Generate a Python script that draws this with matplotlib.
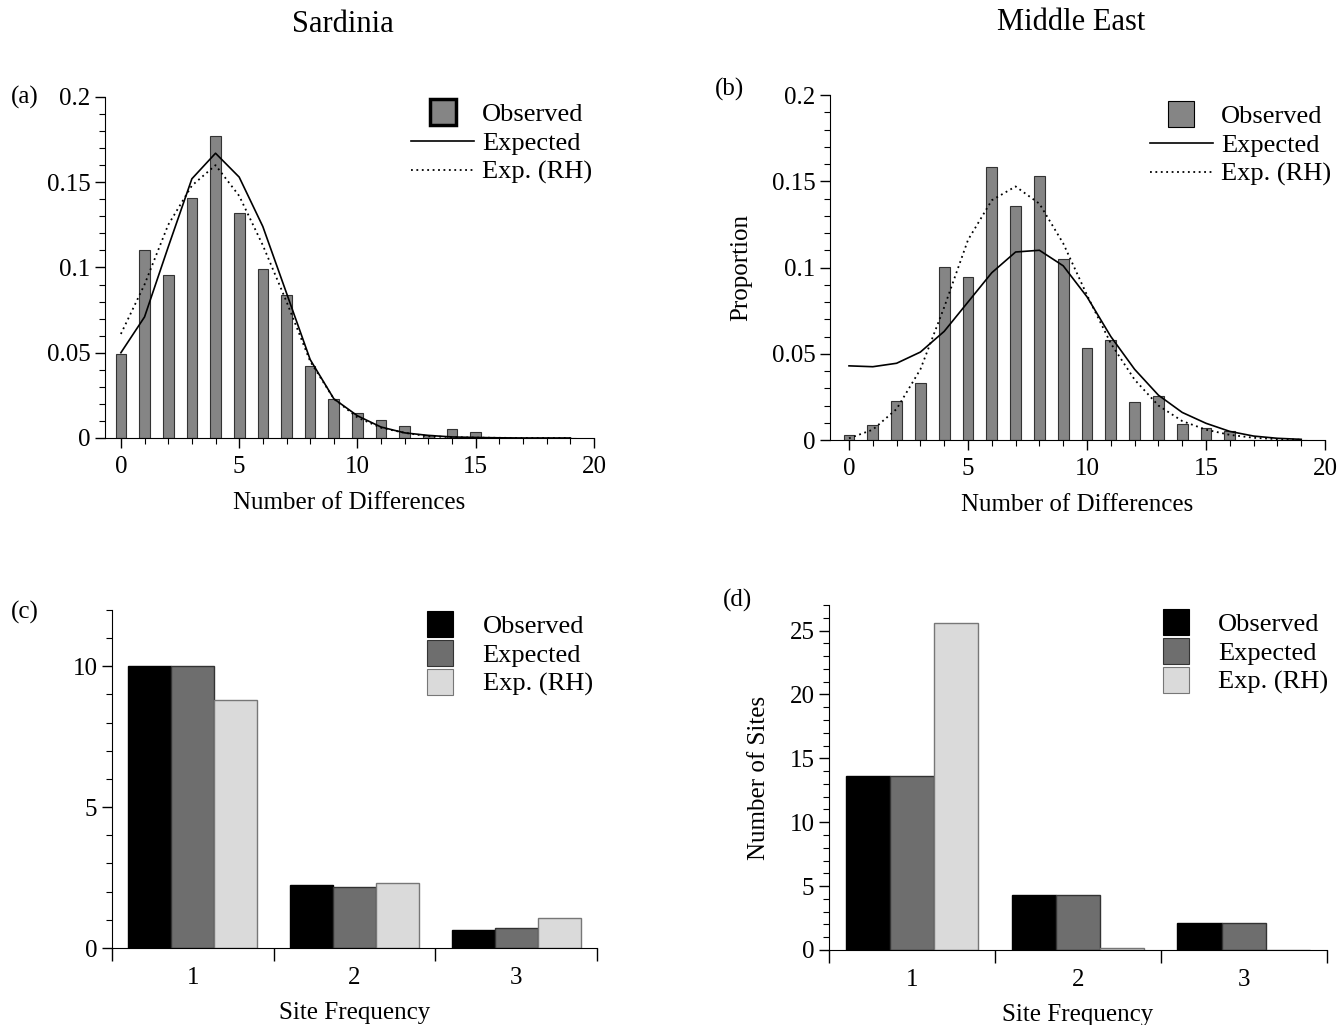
import matplotlib
matplotlib.use('Agg')
import matplotlib.pyplot as plt
import numpy as np
from matplotlib.lines import Line2D
from matplotlib.ticker import MultipleLocator, FixedLocator

plt.rcParams['font.family'] = ['Liberation Serif', 'DejaVu Serif']
plt.rcParams['font.size'] = 18

# --- mismatch distributions (top row) ---
diffs = list(range(0, 20))

sard_obs = [0.049, 0.110, 0.0955, 0.141, 0.177, 0.132, 0.099, 0.084, 0.042, 0.0226,
            0.0144, 0.0105, 0.0072, 0.002, 0.0053, 0.0035, 0, 0, 0, 0]
sard_exp = [0.050, 0.071, 0.112, 0.152, 0.167, 0.153, 0.124, 0.085, 0.046, 0.023,
            0.013, 0.0064, 0.003, 0.0015, 0.0006, 0.0003, 0.0001, 0, 0, 0]
sard_rh = [0.061, 0.090, 0.125, 0.148, 0.160, 0.142, 0.113, 0.080, 0.045, 0.023,
           0.012, 0.006, 0.003, 0.001, 0.0005, 0.0002, 0.0001, 0, 0, 0]

me_obs = [0.003, 0.0087, 0.0228, 0.0328, 0.1003, 0.0945, 0.158, 0.1357, 0.153, 0.105,
          0.0533, 0.058, 0.022, 0.0255, 0.0093, 0.0071, 0.0052, 0, 0, 0]
me_exp = [0.043, 0.0425, 0.0445, 0.051, 0.063, 0.080, 0.097, 0.109, 0.110, 0.101,
          0.083, 0.060, 0.041, 0.026, 0.016, 0.0097, 0.005, 0.0023, 0.001, 0.0004]
me_rh = [0.001, 0.006, 0.018, 0.041, 0.077, 0.116, 0.139, 0.147, 0.137, 0.114,
         0.084, 0.056, 0.035, 0.020, 0.011, 0.006, 0.003, 0.0013, 0.0005, 0.0002]

prop_ticks = [0, 0.05, 0.1, 0.15, 0.2]
prop_labels = ['0', '0.05', '0.1', '0.15', '0.2']

# --- site frequency spectra (bottom row) ---
site_freq = [1, 2, 3]
sard_sfs_obs = [10.0, 2.23, 0.63]
sard_sfs_exp = [10.0, 2.17, 0.72]
sard_sfs_rh = [8.8, 2.32, 1.05]

me_sfs_obs = [13.6, 4.33, 2.1]
me_sfs_exp = [13.6, 4.28, 2.1]
me_sfs_rh = [25.6, 0.12, 0.0]

series_names = ['Observed', 'Expected', 'Exp. (RH)']

bar_gray = '#858585'
sfs_colors = ['black', '#6e6e6e', '#dadada']
sfs_edges = ['black', '#333333', '#777777']

fig = plt.figure(figsize=(13.38, 10.25), dpi=100)


def mismatch_panel(rect, obs, exp, rh, xlim, thick_legend, leg_anchor):
    ax = fig.add_axes(rect)
    ax.bar(diffs, obs, width=0.45, color=bar_gray, edgecolor='#333333', linewidth=0.8, zorder=2)
    ax.plot(diffs, exp, color='black', lw=1.2, zorder=3)
    ax.plot(diffs, rh, color='black', lw=1.3, linestyle=(0, (1, 2)), zorder=3)
    ax.set_xlim(*xlim)
    ax.set_ylim(0, 0.2)
    ax.set_yticks(prop_ticks)
    ax.set_yticklabels(prop_labels)
    ax.yaxis.set_minor_locator(MultipleLocator(0.01))
    ax.set_xticks([0, 5, 10, 15, 20])
    ax.xaxis.set_minor_locator(MultipleLocator(1))
    ax.spines['top'].set_visible(False)
    ax.spines['right'].set_visible(False)
    ax.tick_params(which='major', direction='out', length=7, width=1)
    ax.tick_params(which='minor', direction='out', length=4, width=0.8)
    ax.tick_params(axis='x', pad=6)
    ax.set_xlabel('Number of Differences', labelpad=10)
    handles = [
        Line2D([], [], marker='s', markersize=19, ls='none', mfc=bar_gray,
               mec='black', mew=2.5 if thick_legend else 0.8),
        Line2D([], [], color='black', lw=1.2),
        Line2D([], [], color='black', lw=1.3, linestyle=(0, (1, 2))),
    ]
    ax.legend(handles, series_names, loc='upper right', bbox_to_anchor=leg_anchor,
              frameon=False, handlelength=2.4, handletextpad=0.3, labelspacing=0.2,
              fontsize=19)
    return ax


def sfs_panel(rect, obs, exp, rh, ymax, ystep, leg_anchor):
    ax = fig.add_axes(rect)
    x = np.array(site_freq)
    w = 0.8 / 3
    for i, vals in enumerate([obs, exp, rh]):
        ax.bar(x + (i - 1) * w, vals, width=w, color=sfs_colors[i],
               edgecolor=sfs_edges[i], linewidth=1, label=series_names[i])
    ax.set_xlim(0.5, 3.5)
    ax.set_ylim(0, ymax)
    ax.set_yticks(np.arange(0, ymax + 0.1, ystep))
    ax.yaxis.set_minor_locator(MultipleLocator(1))
    ax.set_xticks(site_freq)
    ax.xaxis.set_minor_locator(FixedLocator([0.5, 1.5, 2.5, 3.5]))
    ax.spines['top'].set_visible(False)
    ax.spines['right'].set_visible(False)
    ax.tick_params(axis='x', which='major', length=0, pad=14)
    ax.tick_params(axis='x', which='minor', direction='out', length=9, width=1)
    ax.tick_params(axis='y', which='major', direction='out', length=7, width=1)
    ax.tick_params(axis='y', which='minor', direction='out', length=4, width=0.8)
    ax.set_xlabel('Site Frequency', labelpad=9)
    handles = [Line2D([], [], marker='s', markersize=19, ls='none', mfc=sfs_colors[i],
                      mec=sfs_edges[i], mew=0.8) for i in range(3)]
    ax.legend(handles, series_names, loc='upper right', bbox_to_anchor=leg_anchor,
              frameon=False, handlelength=2.0, handletextpad=0.6, labelspacing=0.2,
              fontsize=19)
    return ax


ax_a = mismatch_panel([0.0785, 0.5727, 0.3655, 0.3327], sard_obs, sard_exp, sard_rh,
                      (-0.67, 20), True, (1.045, 1.052))
ax_b = mismatch_panel([0.6203, 0.5707, 0.370, 0.3366], me_obs, me_exp, me_rh,
                      (-0.8, 20), False, (1.06, 1.04))
ax_b.set_ylabel('Proportion', labelpad=14)

ax_c = sfs_panel([0.0837, 0.0751, 0.3625, 0.330], sard_sfs_obs, sard_sfs_exp,
                 sard_sfs_rh, 12, 5, (1.04, 1.055))
ax_d = sfs_panel([0.6196, 0.0732, 0.372, 0.3366], me_sfs_obs, me_sfs_exp,
                 me_sfs_rh, 27, 5, (1.05, 1.046))
ax_d.set_ylabel('Number of Sites', labelpad=14)

fig.text(343 / 1338, 1 - 25 / 1025, 'Sardinia', ha='center', va='center', fontsize=22)
fig.text(1071 / 1338, 1 - 22 / 1025, 'Middle East', ha='center', va='center', fontsize=22)
fig.text(25 / 1338, 1 - 97 / 1025, '(a)', ha='center', va='center', fontsize=18)
fig.text(730 / 1338, 1 - 89 / 1025, '(b)', ha='center', va='center', fontsize=18)
fig.text(25 / 1338, 1 - 612 / 1025, '(c)', ha='center', va='center', fontsize=18)
fig.text(737 / 1338, 1 - 600 / 1025, '(d)', ha='center', va='center', fontsize=18)

fig.savefig('out.png', dpi=100)
